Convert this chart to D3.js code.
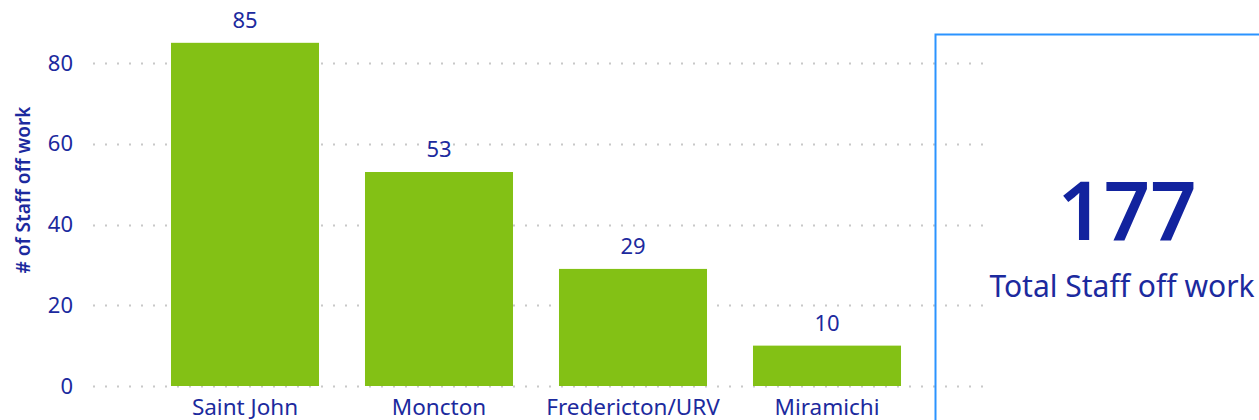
<!DOCTYPE html>
<html>
<head>
<meta charset="utf-8">
<script src="https://cdn.jsdelivr.net/npm/d3@7"></script>
<style>
    html, body { margin: 0; padding: 0; background: #fff; overflow: hidden; }
    text { font-family: "Segoe UI", "Noto Sans", sans-serif; }
</style>
</head>
<body>
<div id="chart"></div>
<script>
// chart data
const categories = ["Saint John", "Moncton", "Fredericton/URV", "Miramichi"];
const staffOff = [85, 53, 29, 10];
const yTicks = [0, 20, 40, 60, 80];
const totalLabel = "Total Staff off work";

const svg = {
        width: 1259,
        height: 420
    },
    blue = "#1C2A9E",
    green = "#83C115";

const chart = d3.select("#chart")
    .append("svg")
    .attr("width", svg.width)
    .attr("height", svg.height);

const xScale = d3.scaleBand()
    .domain(categories)
    .range([148, 924])
    .paddingInner(0.237)
    .paddingOuter(0.1185);

const yScale = d3.scaleLinear()
    .domain([0, 80])
    .range([386, 63]);

// dotted gridlines
chart.append("g")
    .attr("class", "grid")
    .selectAll("line")
    .data(yTicks)
    .join("line")
    .attr("x1", 93)
    .attr("x2", 986)
    .attr("y1", d => Math.round(yScale(d)) + 0.5)
    .attr("y2", d => Math.round(yScale(d)) + 0.5)
    .attr("stroke", "#c8c8c8")
    .attr("stroke-width", 2)
    .attr("stroke-dasharray", "2 10");

// y axis
const yAxis = d3.axisLeft(yScale)
    .tickValues(yTicks)
    .tickSize(0)
    .tickPadding(0);

chart.append("g")
    .attr("class", "axis y")
    .attr("transform", "translate(73,0)")
    .call(yAxis)
    .call(g => g.select(".domain").remove())
    .selectAll("text")
    .attr("fill", blue)
    .style("font-size", "22px");

chart.append("text")
    .attr("transform", "translate(30,190) rotate(-90)")
    .attr("text-anchor", "middle")
    .attr("fill", blue)
    .style("font-size", "19px")
    .style("font-weight", "600")
    .text("# of Staff off work");

// bars
chart.append("g")
    .attr("class", "marks")
    .selectAll("rect")
    .data(staffOff)
    .join("rect")
    .attr("x", (d, i) => xScale(categories[i]))
    .attr("width", xScale.bandwidth())
    .attr("y", d => yScale(d))
    .attr("height", d => yScale(0) - yScale(d))
    .attr("fill", green);

// value labels
chart.append("g")
    .selectAll("text")
    .data(staffOff)
    .join("text")
    .attr("x", (d, i) => xScale(categories[i]) + xScale.bandwidth() / 2)
    .attr("y", d => yScale(d) - 15)
    .attr("text-anchor", "middle")
    .attr("fill", blue)
    .style("font-size", "22px")
    .text(d => d);

// x axis
const xAxis = d3.axisBottom(xScale).tickSize(0).tickPadding(0);

chart.append("g")
    .attr("class", "axis x")
    .attr("transform", "translate(0,399)")
    .call(xAxis)
    .call(g => g.select(".domain").remove())
    .selectAll("text")
    .attr("fill", blue)
    .style("font-size", "22.5px");

// card
const total = d3.sum(staffOff);

chart.append("rect")
    .attr("x", 935.5)
    .attr("y", 34.5)
    .attr("width", 400)
    .attr("height", 500)
    .attr("fill", "none")
    .attr("stroke", "#2B93FF")
    .attr("stroke-width", 2);

chart.append("text")
    .attr("x", 1127)
    .attr("y", 240)
    .attr("text-anchor", "middle")
    .attr("fill", "#12239E")
    .style("font-size", "81px")
    .style("font-weight", "600")
    .text(total);

chart.append("text")
    .attr("x", 1122)
    .attr("y", 297)
    .attr("text-anchor", "middle")
    .attr("fill", blue)
    .style("font-size", "30px")
    .text(totalLabel);
</script>
</body>
</html>
